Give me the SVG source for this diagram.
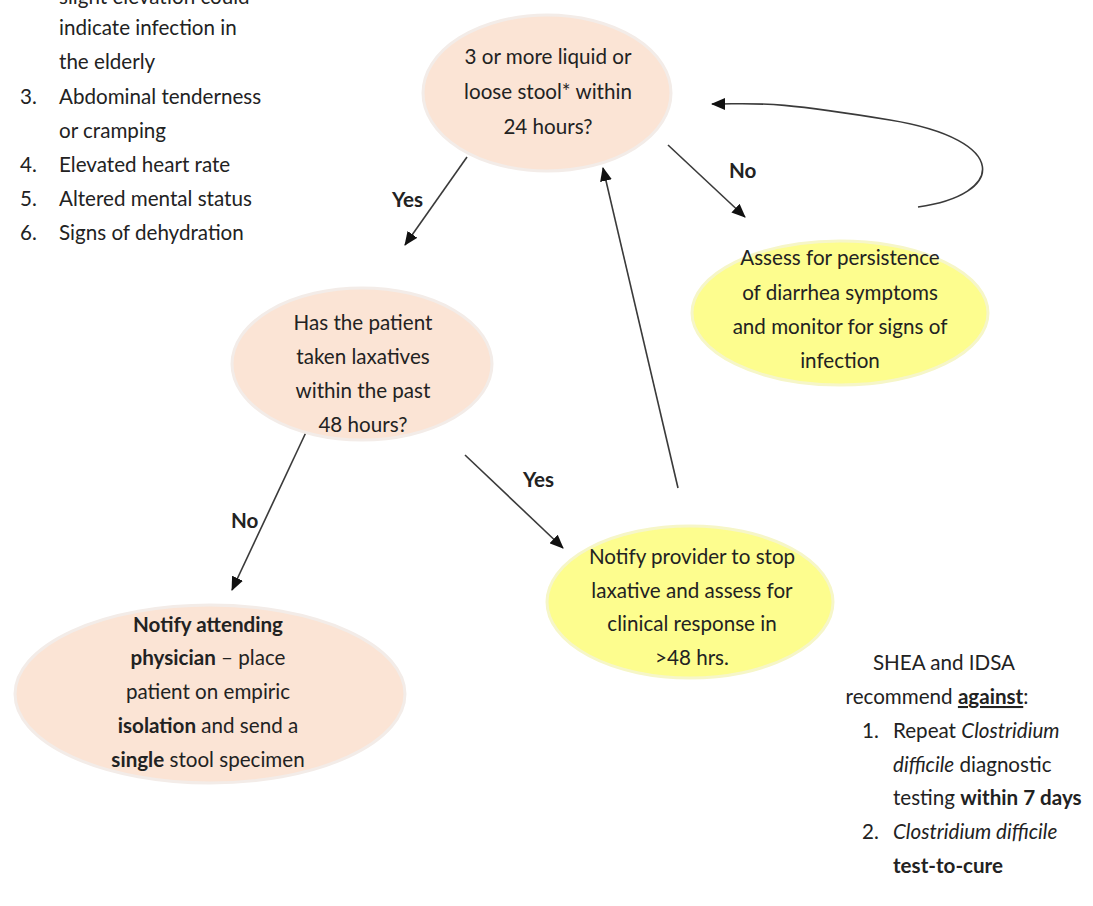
<svg xmlns="http://www.w3.org/2000/svg" width="1093" height="906" viewBox="0 0 1093 906">
<defs>
<marker id="ah" markerWidth="14" markerHeight="12" refX="13" refY="6" orient="auto" markerUnits="userSpaceOnUse">
<path d="M0,0 L14,6 L0,12 Z" fill="#111"/>
</marker>
<style>
text{font-family:Lato,"Liberation Sans",sans-serif;font-size:20.6px;fill:#222}
.c{text-anchor:middle}
.b{font-weight:bold}
.i{font-style:italic}
.peach{fill:#fbe4d5;stroke:#f3ece8;stroke-width:3}
.yel{fill:#fdfd8e;stroke:#f6f6c8;stroke-width:3}
.ln{stroke:#3a3a3a;stroke-width:1.6;fill:none}
</style>
</defs>
<rect width="1093" height="906" fill="#fff"/>

<g id="criteria-list">
<text x="59" y="4">slight elevation could</text>
<text x="59" y="35">indicate infection in</text>
<text x="59" y="69">the elderly</text>
<text x="20" y="104">3.</text><text x="59" y="104">Abdominal tenderness</text>
<text x="59" y="138">or cramping</text>
<text x="20" y="172">4.</text><text x="59" y="172">Elevated heart rate</text>
<text x="20" y="206">5.</text><text x="59" y="206">Altered mental status</text>
<text x="20" y="240">6.</text><text x="59" y="240">Signs of dehydration</text>
</g>

<g id="connectors">
<line class="ln" x1="467" y1="157" x2="405" y2="245" marker-end="url(#ah)"/>
<line class="ln" x1="668" y1="145" x2="745" y2="217" marker-end="url(#ah)"/>
<path class="ln" d="M918,207 C1005,195 1012,140 890,120 S760,104 712,104" marker-end="url(#ah)"/>
<line class="ln" x1="678" y1="488" x2="603" y2="168" marker-end="url(#ah)"/>
<line class="ln" x1="308" y1="428" x2="232" y2="590" marker-end="url(#ah)"/>
<line class="ln" x1="465" y1="455" x2="563" y2="548" marker-end="url(#ah)"/>
<text class="b" x="392" y="207">Yes</text>
<text class="b" x="729" y="178">No</text>
<text class="b" x="231" y="528">No</text>
<text class="b" x="523" y="487">Yes</text>
</g>

<g id="q-stool">
<ellipse class="peach" cx="547" cy="93" rx="124" ry="78"/>
<text class="c" x="548" y="64">3 or more liquid or</text>
<text class="c" x="548" y="99">loose stool* within</text>
<text class="c" x="548" y="134">24 hours?</text>
</g>

<g id="assess-persistence">
<ellipse class="yel" cx="840" cy="313" rx="148" ry="72"/>
<text class="c" x="840" y="265">Assess for persistence</text>
<text class="c" x="840" y="300">of diarrhea symptoms</text>
<text class="c" x="840" y="334">and monitor for signs of</text>
<text class="c" x="840" y="368">infection</text>
</g>

<g id="q-laxatives">
<ellipse class="peach" cx="362" cy="364" rx="130" ry="76"/>
<text class="c" x="363" y="330">Has the patient</text>
<text class="c" x="363" y="364">taken laxatives</text>
<text class="c" x="363" y="398">within the past</text>
<text class="c" x="363" y="432">48 hours?</text>
</g>

<g id="notify-physician">
<ellipse class="peach" cx="210" cy="694" rx="195" ry="89"/>
<text class="c" x="208" y="632"><tspan class="b">Notify attending</tspan></text>
<text class="c" x="208" y="665"><tspan class="b">physician</tspan> – place</text>
<text class="c" x="208" y="699">patient on empiric</text>
<text class="c" x="208" y="733"><tspan class="b">isolation</tspan> and send a</text>
<text class="c" x="208" y="767"><tspan class="b">single</tspan> stool specimen</text>
</g>

<g id="notify-provider">
<ellipse class="yel" cx="690" cy="602" rx="143" ry="76"/>
<text class="c" x="692" y="564">Notify provider to stop</text>
<text class="c" x="692" y="598">laxative and assess for</text>
<text class="c" x="692" y="631">clinical response in</text>
<text class="c" x="692" y="665">&gt;48 hrs.</text>
</g>

<g id="shea-note">
<text class="c" x="944" y="670">SHEA and IDSA</text>
<text class="c" x="937" y="704">recommend <tspan class="b" text-decoration="underline">against</tspan>:</text>
<text x="862" y="738">1.</text><text x="893" y="738">Repeat <tspan class="i">Clostridium</tspan></text>
<text x="893" y="772"><tspan class="i">difficile</tspan> diagnostic</text>
<text x="893" y="805">testing <tspan class="b">within 7 days</tspan></text>
<text x="862" y="839">2.</text><text x="893" y="839" class="i">Clostridium difficile</text>
<text x="893" y="873" class="b">test-to-cure</text>
</g>
</svg>
